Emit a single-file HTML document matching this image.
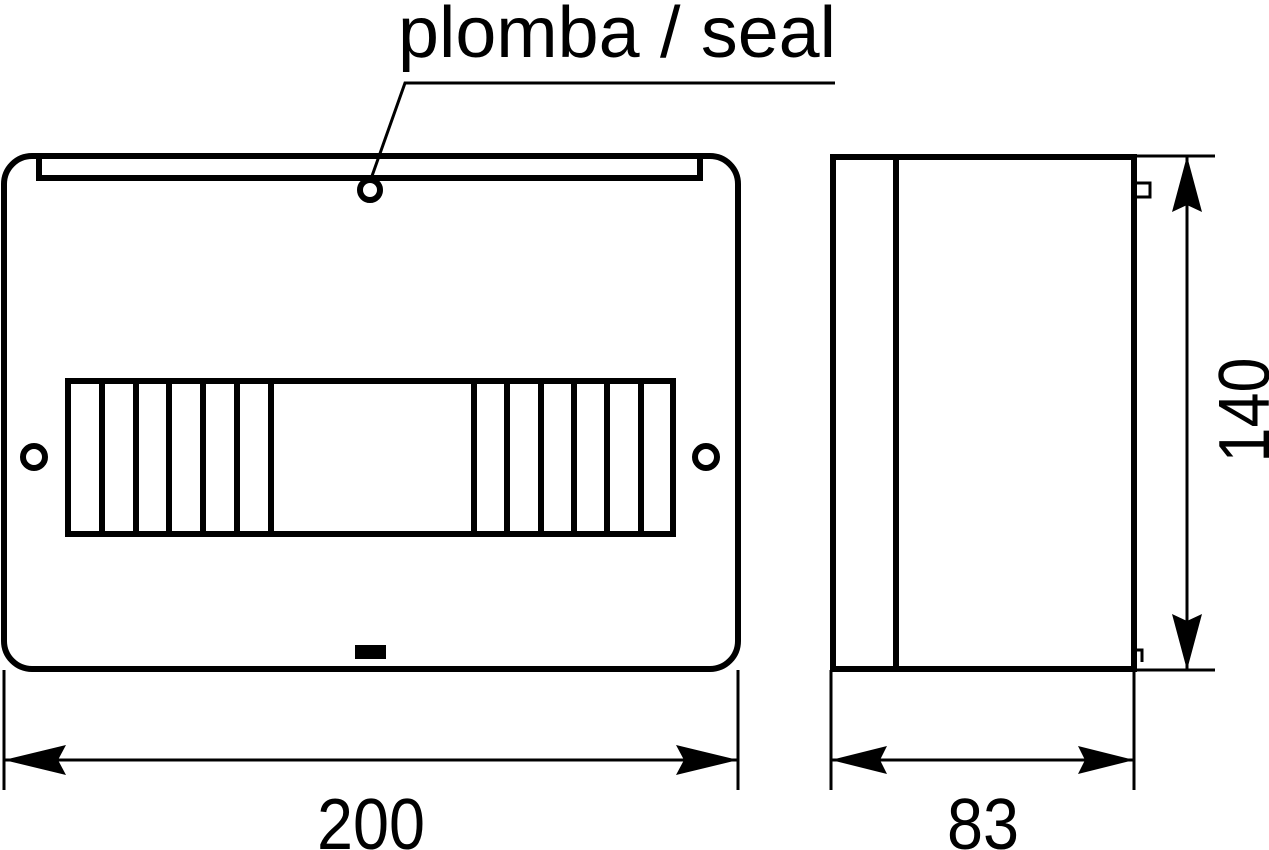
<!DOCTYPE html>
<html><head><style>body{margin:0;background:#fff}svg{display:block}</style></head>
<body>
<svg width="1269" height="850" viewBox="0 0 1269 850" xmlns="http://www.w3.org/2000/svg">
<g fill="none" stroke="#000" stroke-width="6">
  <rect x="4" y="156" width="734" height="513" rx="28"/>
  <polyline points="39,156 39,178 700,178 700,156"/>
  <circle cx="370" cy="190" r="10"/>
  <rect x="68" y="381" width="605" height="153"/>
  <path d="M102,381V534M136,381V534M169,381V534M203,381V534M237,381V534M271,381V534M474,381V534M507,381V534M541,381V534M574,381V534M607,381V534M641,381V534"/>
  <circle cx="34" cy="457" r="11"/>
  <circle cx="706" cy="457" r="11"/>
  <rect x="833" y="157" width="301" height="512"/>
  <path d="M896,157V669"/>
</g>
<rect x="355" y="645" width="31" height="14" fill="#000"/>
<g fill="none" stroke="#000" stroke-width="3">
  <path d="M372,176L405,83H835"/>
  <path d="M4,670V790M738,670V790M4,760H738"/>
  <path d="M831,670V790M1134,670V790M831,760H1134"/>
  <path d="M1134,156H1215M1134,670H1215M1187,156V670"/>
  <path d="M1137,183H1150V197H1137"/>
  <path d="M1137,650H1142V662"/>
</g>
<g fill="#000">
  <path d="M4,760L66,745L58,760L66,775Z"/>
  <path d="M738,760L676,745L684,760L676,775Z"/>
  <path d="M831,760L887,746L880,760L887,774Z"/>
  <path d="M1134,760L1078,746L1085,760L1078,774Z"/>
  <path d="M1187,156L1202,212L1187,205L1172,212Z"/>
  <path d="M1187,670L1202,614L1187,621L1172,614Z"/>
</g>
<g font-family="Liberation Sans, sans-serif" font-size="72" fill="#000">
  <text x="398" y="57" textLength="438" lengthAdjust="spacingAndGlyphs">plomba / seal</text>
  <text x="371" y="849" text-anchor="middle" textLength="108" lengthAdjust="spacingAndGlyphs">200</text>
  <text x="983" y="849" text-anchor="middle" textLength="72" lengthAdjust="spacingAndGlyphs">83</text>
  <text transform="translate(1269,410) rotate(-90)" text-anchor="middle" textLength="105" lengthAdjust="spacingAndGlyphs">140</text>
</g>
</svg>
</body></html>
